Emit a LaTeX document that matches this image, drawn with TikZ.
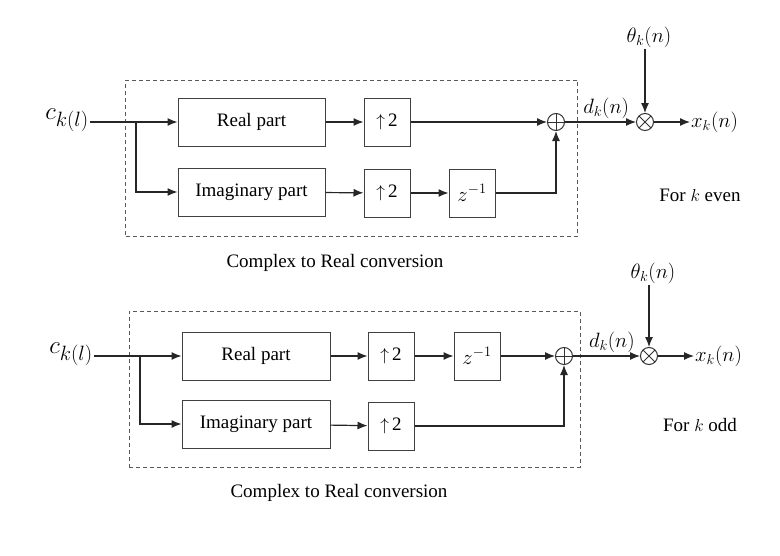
\documentclass[tikz,border=0pt]{standalone}
\usepackage{fontspec}
\setmainfont{Liberation Serif}
\usetikzlibrary{arrows.meta}
\usetikzlibrary{calc}
\tikzset{block/.style={draw=black!75,line width=1pt,minimum width=#1,minimum height=48,inner sep=0pt},block/.default=46}
\tikzset{frame/.style={draw=black!65,line width=1pt,dash pattern=on 4pt off 3pt,minimum width=#1,minimum height=156},frame/.default=452}
\tikzset{flow/.style={draw=black!85,line width=1.2pt,-{Latex[length=10pt,width=8pt]}}}
\tikzset{adder/.style={circle,draw=black!80,line width=1pt,minimum size=17,inner sep=0pt,
	path picture={\draw[line width=1pt] (path picture bounding box.north) -- (path picture bounding box.south)
		(path picture bounding box.west) -- (path picture bounding box.east);}}}
\tikzset{mixer/.style={circle,draw=black!80,line width=1pt,minimum size=17,inner sep=0pt,
	path picture={\draw[line width=1pt] (path picture bounding box.north west) -- (path picture bounding box.south east)
		(path picture bounding box.south west) -- (path picture bounding box.north east);}}}
\tikzset{txt/.style={inner sep=1pt,font=\fontsize{19}{22}\selectfont}}
\tikzset{sym/.style={inner sep=1pt,font=\fontsize{#1}{#1}\selectfont},sym/.default=20.74}

\begin{document}
\begin{tikzpicture}[x=1pt,y=-1pt]
	\useasboundingbox (0,0) rectangle (780,555);
	\tikzset{every node/.append style={font=\fontsize{19}{22}\selectfont}}

	% Conversao para k par
	\node [frame] (convA) at (351.5,158) {};
	\node [txt] (convAlabel) at (335,263) {Complex to Real conversion};
	\node [sym=24.88,anchor=east] (cA) at (90,120) {$c_{k(l)}$};
	\coordinate (branchA) at (136,122);
	\node [block=147] (realA) at (251.5,122) {Real part};
	\node [block] (upA1) at (387,122) {$\uparrow$\,2};
	\node [block=147] (imagA) at (251.5,192) {Imaginary part};
	\node [block] (upA2) at (387,193) {$\uparrow$\,2};
	\node [block,sym] (delayA) at (472,193) {$z^{-1}$};
	\node [adder] (sumA) at (556,122) {};
	\node [mixer] (multA) at (645,122) {};
	\node [sym] (thetaA) at (649,37) {$\theta_k(n)$};
	\node [sym,anchor=west] (xA) at (690,122) {$x_k(n)$};
	\node [txt] (evenA) at (700,195) {For $k$ even};

	% Ligacoes de cima
	\draw [flow] (cA.east |- branchA) -- (realA.west);
	\draw [flow] (branchA) |- (imagA.west);
	\draw [flow] (realA) -- (upA1);
	\draw [flow] (upA1) -- (sumA);
	\draw [flow] (imagA) -- (upA2);
	\draw [flow] (upA2) -- (delayA);
	\draw [flow] (delayA.east) -| (sumA.south);
	\draw [flow] (sumA) -- (multA)
		node [sym,pos=0.58,above=2pt] (dA) {$d_k(n)$};
	\draw [flow] (thetaA.south -| multA) -- (multA);
	\draw [flow] (multA) -- (xA);

	% Conversao para k impar
	\node [frame=451] (convB) at (354.5,389) {};
	\node [txt] (convBlabel) at (339,493) {Complex to Real conversion};
	\node [sym=24.88,anchor=east] (cB) at (94,354) {$c_{k(l)}$};
	\coordinate (branchB) at (140,356);
	\node [block=148] (realB) at (256,356) {Real part};
	\node [block] (upB1) at (391,356) {$\uparrow$\,2};
	\node [block,sym] (delayB) at (477,356) {$z^{-1}$};
	\node [block=148] (imagB) at (256,424) {Imaginary part};
	\node [block] (upB2) at (391,426) {$\uparrow$\,2};
	\node [adder] (sumB) at (564,356) {};
	\node [mixer] (multB) at (649,356) {};
	\node [sym] (thetaB) at (653,273) {$\theta_k(n)$};
	\node [sym,anchor=west] (xB) at (694,356) {$x_k(n)$};
	\node [txt] (oddB) at (700,425) {For $k$ odd};

	% Ligacoes de baixo
	\draw [flow] (cB.east |- branchB) -- (realB.west);
	\draw [flow] (branchB) |- (imagB.west);
	\draw [flow] (realB) -- (upB1);
	\draw [flow] (upB1) -- (delayB);
	\draw [flow] (delayB) -- (sumB);
	\draw [flow] (imagB) -- (upB2);
	\draw [flow] (upB2.east) -| (sumB.south);
	\draw [flow] (sumB) -- (multB)
		node [sym,pos=0.58,above=2pt] (dB) {$d_k(n)$};
	\draw [flow] (thetaB.south -| multB) -- (multB);
	\draw [flow] (multB) -- (xB);

\end{tikzpicture}
\end{document}
